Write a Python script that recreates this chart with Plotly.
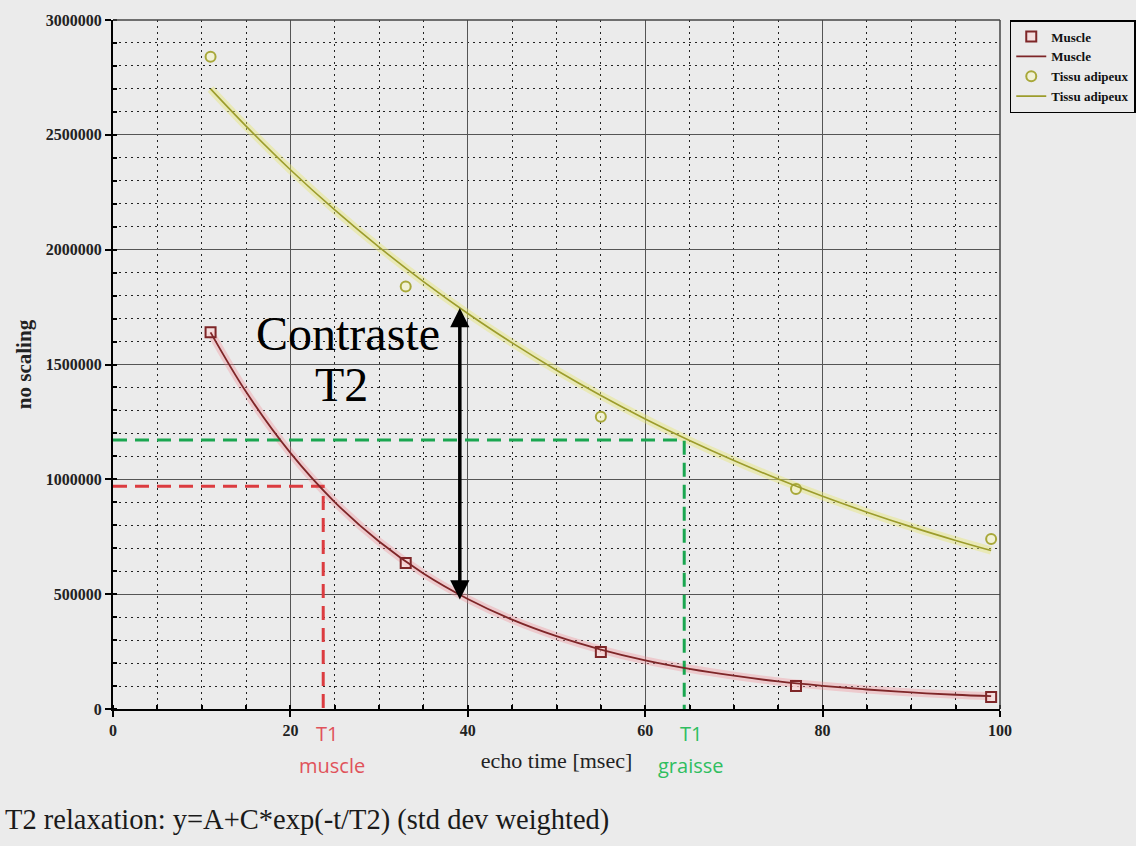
import plotly.graph_objects as go

# ---- data ----
echo_time = [11, 33, 55, 77, 99]
muscle_signal = [1640000, 636000, 248000, 100000, 52000]
adipeux_signal = [2840000, 1840000, 1272000, 958000, 740000]

fit_time = [11, 15, 20, 25, 30, 35, 40, 45, 50, 55, 60, 65, 70, 75, 80, 85, 90, 95, 99]
muscle_fit = [1640000, 1381000, 1115000, 901000, 729000, 590000, 479000, 389000, 317000,
              259000, 212000, 175000, 145000, 120000, 101000, 85000, 72000, 62000, 56000]
adipeux_fit = [2700000, 2538000, 2348000, 2173000, 2011000, 1861000, 1722000, 1594000, 1475000,
               1365000, 1263000, 1169000, 1082000, 1001000, 926000, 857000, 793000, 734000, 690000]

t1_muscle = 23.7
s_muscle = 970000
t1_graisse = 64.4
s_graisse = 1171000
contrast_t = 39.1
contrast_range = [470000, 1746000]

x_ticks = [0, 20, 40, 60, 80, 100]
y_ticks = [0, 500000, 1000000, 1500000, 2000000, 2500000, 3000000]

MUSCLE = "#7e2628"
ADIPEUX = "#9c9c2c"
RED_D = "#dc3c40"
GREEN_D = "#1aa650"
BG = "#ebebeb"
SERIF = "Liberation Serif"

fig = go.Figure()

# glow under fitted curves
fig.add_trace(go.Scatter(x=fit_time, y=muscle_fit, mode="lines", showlegend=False, hoverinfo="skip",
                         line=dict(color="rgba(240,140,150,0.35)", width=8, shape="spline")))
fig.add_trace(go.Scatter(x=fit_time, y=adipeux_fit, mode="lines", showlegend=False, hoverinfo="skip",
                         line=dict(color="rgba(230,230,120,0.45)", width=8, shape="spline")))

# dashed T1 guides
fig.add_trace(go.Scatter(x=[0, t1_muscle, t1_muscle], y=[s_muscle, s_muscle, 0], mode="lines",
                         showlegend=False, hoverinfo="skip",
                         line=dict(color=RED_D, width=3, dash="14px,8px")))
fig.add_trace(go.Scatter(x=[0, t1_graisse, t1_graisse], y=[s_graisse, s_graisse, 0], mode="lines",
                         showlegend=False, hoverinfo="skip",
                         line=dict(color=GREEN_D, width=3, dash="14px,8px")))

# legend-order traces
fig.add_trace(go.Scatter(x=echo_time, y=muscle_signal, mode="markers", name="Muscle",
                         marker=dict(symbol="square", size=10, color="rgba(250,215,215,0.6)",
                                     line=dict(color=MUSCLE, width=2))))
fig.add_trace(go.Scatter(x=fit_time, y=muscle_fit, mode="lines", name="Muscle",
                         line=dict(color=MUSCLE, width=1.8, shape="spline")))
fig.add_trace(go.Scatter(x=echo_time, y=adipeux_signal, mode="markers", name="Tissu adipeux",
                         marker=dict(symbol="circle", size=10, color="rgba(245,245,200,0.6)",
                                     line=dict(color="#a8a83a", width=2))))
fig.add_trace(go.Scatter(x=fit_time, y=adipeux_fit, mode="lines", name="Tissu adipeux",
                         line=dict(color=ADIPEUX, width=1.6, shape="spline")))

tickfont = dict(family=SERIF, size=16, color="#222", weight="bold")

fig.update_xaxes(range=[0, 100], tickvals=x_ticks, showgrid=True, gridcolor="#555", gridwidth=1,
                 ticks="outside", ticklen=6, tickwidth=2, tickcolor="black",
                 showline=True, linecolor="black", linewidth=2, zeroline=False,
                 tickfont=tickfont,
                 minor=dict(dtick=5, showgrid=True, gridcolor="#222", griddash="2px,4px", gridwidth=1,
                            ticks="inside", ticklen=4, tickcolor="black"),
                 title=dict(text="echo time [msec]", font=dict(family=SERIF, size=22, color="#222"),
                            standoff=14))
fig.update_yaxes(range=[0, 3000000], tickvals=y_ticks, tickformat="d", showgrid=True, gridcolor="#555",
                 gridwidth=1, ticks="outside", ticklen=6, tickwidth=2, tickcolor="black",
                 showline=True, linecolor="black", linewidth=2, zeroline=False,
                 tickfont=tickfont,
                 minor=dict(dtick=100000, showgrid=True, gridcolor="#222", griddash="2px,4px", gridwidth=1,
                            ticks="inside", ticklen=4, tickcolor="black"),
                 title=dict(text="no scaling", font=dict(family=SERIF, size=21, color="#222", weight="bold"),
                            standoff=8))

annotations = [
    dict(x=26.5, y=1637000, text="Contraste", showarrow=False,
         font=dict(family=SERIF, size=48, color="black")),
    dict(x=25.8, y=1411000, text="T2", showarrow=False,
         font=dict(family=SERIF, size=48, color="black")),
    dict(x=contrast_t, y=contrast_range[1], ax=contrast_t, ay=contrast_range[0], axref="x", ayref="y",
         text="", showarrow=True, arrowhead=2, arrowside="end+start", arrowwidth=3.5, arrowsize=1.1,
         arrowcolor="black"),
    dict(x=t1_muscle + 0.4, y=-0.058, yref="paper", text="T1", showarrow=False,
         font=dict(family="Open Sans", size=20, color="#e0525a")),
    dict(x=t1_muscle + 1.0, y=-0.104, yref="paper", text="muscle", showarrow=False,
         font=dict(family="Open Sans", size=20, color="#e0525a")),
    dict(x=t1_graisse + 0.8, y=-0.058, yref="paper", text="T1", showarrow=False,
         font=dict(family="Open Sans", size=20, color="#2fbe60")),
    dict(x=t1_graisse + 0.8, y=-0.104, yref="paper", text="graisse", showarrow=False,
         font=dict(family="Open Sans", size=20, color="#2fbe60")),
    dict(x=-0.124, xref="paper", xanchor="left", y=-0.161, yref="paper", yanchor="middle",
         text="T2 relaxation: y=A+C*exp(-t/T2) (std dev weighted)", showarrow=False,
         font=dict(family=SERIF, size=28.5, color="#1a1a1a")),
]

shapes = [
    dict(type="line", xref="paper", yref="paper", x0=0, x1=1, y0=1, y1=1,
         line=dict(color="#444", width=1.5)),
    dict(type="line", xref="paper", yref="paper", x0=1, x1=1, y0=0, y1=1,
         line=dict(color="#444", width=1.5)),
]

fig.update_layout(
    width=1136, height=846,
    margin=dict(l=113, r=136, t=20, b=137, autoexpand=False),
    paper_bgcolor=BG, plot_bgcolor=BG,
    annotations=annotations,
    shapes=shapes,
    showlegend=True,
    legend=dict(x=1.011, y=1.0, xanchor="left", yanchor="top", bgcolor=BG,
                bordercolor="black", borderwidth=1.5, tracegroupgap=0,
                font=dict(family=SERIF, size=13, color="#111", weight="bold")),
)

fig.write_html("out.html", config={"displayModeBar": False},
               post_script="document.body.style.margin='0';document.body.style.background='#ebebeb';")
